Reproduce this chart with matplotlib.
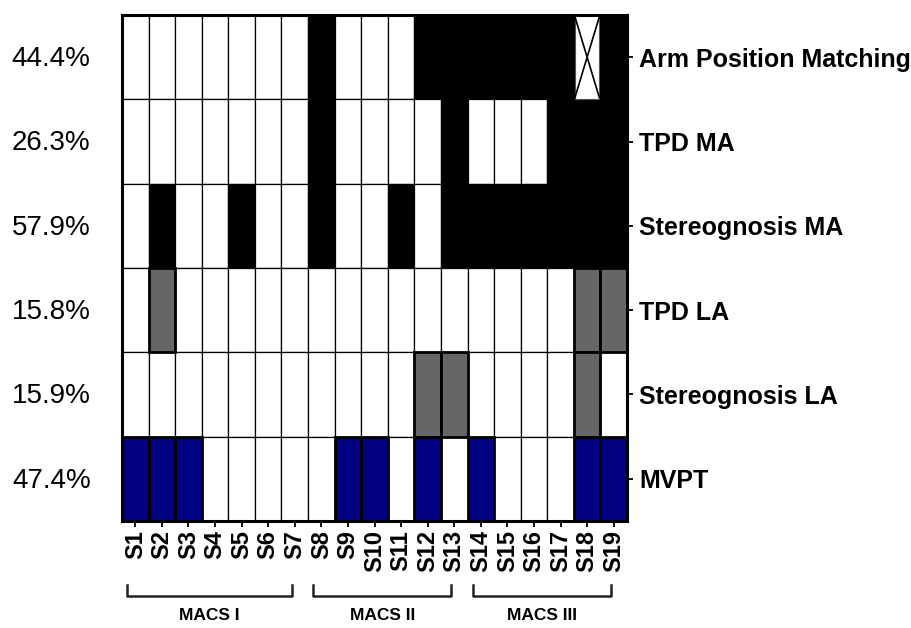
import numpy as np
import matplotlib; matplotlib.use("Agg")
import matplotlib.pyplot as plt
import matplotlib.transforms as mtrans

plt.rcParams['font.family'] = ['Liberation Sans', 'DejaVu Sans']

subjects = ["S%d" % i for i in range(1, 20)]
tests = ["Arm Position Matching", "TPD MA", "Stereognosis MA", "TPD LA", "Stereognosis LA", "MVPT"]
percents = ["44.4%", "26.3%", "57.9%", "15.8%", "15.9%", "47.4%"]
# 0 = normal, 1 = impaired MA, 2 = impaired LA, 3 = impaired MVPT, -1 = missing
grid = [
    [0,0,0,0,0,0,0,1,0,0,0,1,1,1,1,1,1,-1,1],
    [0,0,0,0,0,0,0,1,0,0,0,0,1,0,0,0,1,1,1],
    [0,1,0,0,1,0,0,1,0,0,1,0,1,1,1,1,1,1,1],
    [0,2,0,0,0,0,0,0,0,0,0,0,0,0,0,0,0,2,2],
    [0,0,0,0,0,0,0,0,0,0,0,2,2,0,0,0,0,2,0],
    [3,3,3,0,0,0,0,0,3,3,0,3,0,3,0,0,0,3,3],
]
groups = ["MACS I", "MACS II", "MACS III"]
group_cols = [(0, 6), (7, 12), (13, 18)]

fill = {0: "white", -1: "white", 1: "black", 2: "#666666", 3: "#000080"}
G = np.array(grid)
ncol = len(subjects); nrow = len(tests)
x = np.arange(ncol) + 0.5

fig = plt.figure(figsize=(9.12, 6.28), dpi=100)
ax = fig.add_axes([0.1338, 0.1704, 0.5537, 0.8057])

# plain cells first, heavy-edged ones on top
for codes, lw, z in [((0, -1, 1), 0.9, 2), ((2, 3), 2.0, 3)]:
    for r in range(nrow):
        m = np.isin(G[r], codes)
        if not m.any():
            continue
        ax.bar(x[m], 1, bottom=r, width=1, color=[fill[c] for c in G[r][m]],
               edgecolor="black", linewidth=lw, zorder=z)

# missing value: crossed cell
for r, c in zip(*np.where(G == -1)):
    ax.bar(x[c], 1, bottom=r, width=0.92, color="white", edgecolor="#555555", linewidth=0.8, zorder=4)
    ax.plot([c + 0.04, c + 0.96], [r + 0.02, r + 0.98], color="black", lw=1.2, zorder=5)
    ax.plot([c + 0.04, c + 0.96], [r + 0.98, r + 0.02], color="black", lw=1.2, zorder=5)

ax.set_xlim(0, ncol); ax.set_ylim(nrow, 0)
for s in ax.spines.values():
    s.set_linewidth(2.2); s.set_zorder(6)

ax.set_xticks(x)
ax.set_xticklabels(subjects, rotation=90, fontsize=17, fontweight="bold")
ax.tick_params(axis="x", length=4.5, width=1.3, pad=2)
ax.yaxis.tick_right()
ax.set_yticks(np.arange(nrow) + 0.5)
ax.set_yticklabels(tests, fontsize=18, fontweight="bold")
ax.tick_params(axis="y", length=4, width=1.3, pad=5)

tr = mtrans.blended_transform_factory(ax.transAxes, ax.transData)
for r, p in enumerate(percents):
    ax.text(-0.062, r + 0.52, p, transform=tr, ha="right", va="center", fontsize=20)

trb = mtrans.blended_transform_factory(ax.transData, ax.transAxes)
for g, (a, b) in zip(groups, group_cols):
    x0 = x[a] - 0.3; x1 = x[b] - 0.12
    ax.plot([x0, x0, x1, x1], [-0.126, -0.148, -0.148, -0.126], color="#222222",
            lw=1.8, transform=trb, clip_on=False)
    ax.text((x0 + x1) / 2, -0.186, g, transform=trb, ha="center", va="center",
            fontsize=12.5, fontweight="bold")

fig.savefig("out.png", dpi=100, facecolor="white")
